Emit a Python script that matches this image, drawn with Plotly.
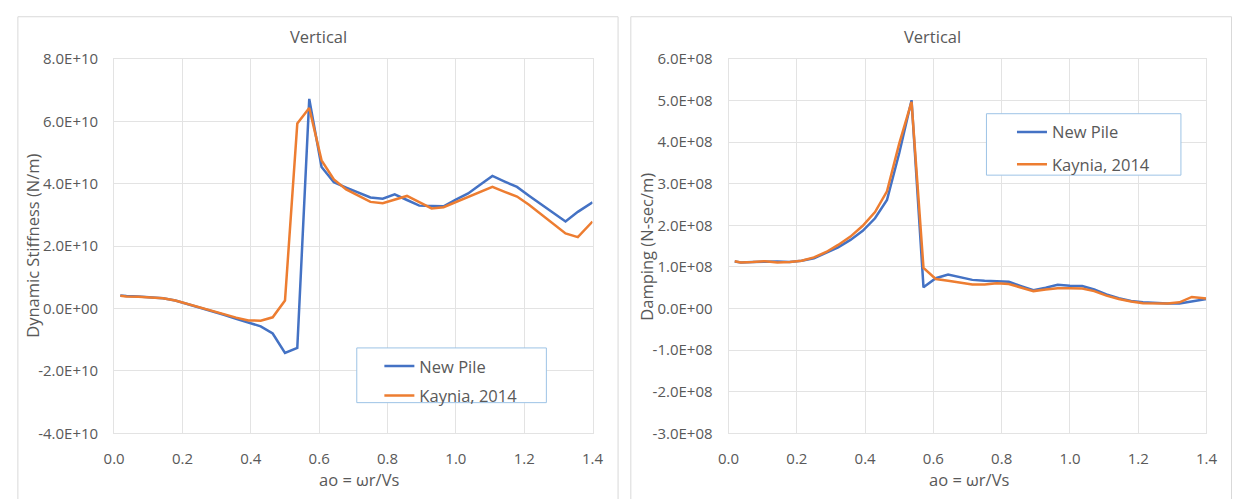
import plotly.graph_objects as go

# Dimensionless frequency ao = ωr/Vs
ao = [0.018, 0.036, 0.071, 0.107, 0.143, 0.179, 0.214, 0.250, 0.286, 0.321,
      0.357, 0.393, 0.429, 0.464, 0.500, 0.536, 0.571, 0.607, 0.643, 0.679,
      0.714, 0.750, 0.786, 0.821, 0.857, 0.893, 0.929, 0.964, 1.000, 1.036,
      1.071, 1.107, 1.143, 1.179, 1.214, 1.250, 1.286, 1.321, 1.357, 1.400]

# Vertical dynamic stiffness (N/m)
stiff_new_pile = [0.42e10, 0.40e10, 0.39e10, 0.37e10, 0.33e10, 0.26e10, 0.15e10, 0.03e10, -0.09e10, -0.20e10,
                  -0.33e10, -0.46e10, -0.57e10, -0.80e10, -1.42e10, -1.26e10, 6.72e10, 4.54e10, 4.05e10, 3.88e10,
                  3.71e10, 3.56e10, 3.52e10, 3.66e10, 3.48e10, 3.30e10, 3.29e10, 3.28e10, 3.49e10, 3.69e10,
                  3.97e10, 4.25e10, 4.07e10, 3.90e10, 3.62e10, 3.34e10, 3.07e10, 2.79e10, 3.10e10, 3.41e10]
stiff_kaynia = [0.41e10, 0.39e10, 0.38e10, 0.36e10, 0.33e10, 0.26e10, 0.15e10, 0.03e10, -0.08e10, -0.18e10,
                -0.29e10, -0.38e10, -0.39e10, -0.28e10, 0.26e10, 5.93e10, 6.43e10, 4.75e10, 4.14e10, 3.82e10,
                3.61e10, 3.42e10, 3.38e10, 3.50e10, 3.61e10, 3.41e10, 3.21e10, 3.25e10, 3.42e10, 3.59e10,
                3.74e10, 3.90e10, 3.74e10, 3.59e10, 3.33e10, 3.03e10, 2.72e10, 2.41e10, 2.29e10, 2.79e10]

# Vertical damping (N-sec/m)
damp_new_pile = [1.13e8, 1.11e8, 1.12e8, 1.13e8, 1.13e8, 1.12e8, 1.15e8, 1.21e8, 1.34e8, 1.47e8,
                 1.65e8, 1.87e8, 2.17e8, 2.61e8, 3.74e8, 5.01e8, 0.51e8, 0.73e8, 0.82e8, 0.75e8,
                 0.69e8, 0.67e8, 0.66e8, 0.645e8, 0.54e8, 0.44e8, 0.50e8, 0.57e8, 0.55e8, 0.54e8,
                 0.46e8, 0.34e8, 0.25e8, 0.18e8, 0.15e8, 0.13e8, 0.12e8, 0.12e8, 0.17e8, 0.23e8]
damp_kaynia = [1.14e8, 1.11e8, 1.12e8, 1.14e8, 1.11e8, 1.12e8, 1.15e8, 1.23e8, 1.36e8, 1.53e8,
               1.73e8, 1.99e8, 2.32e8, 2.82e8, 3.97e8, 4.97e8, 0.98e8, 0.71e8, 0.67e8, 0.63e8,
               0.58e8, 0.58e8, 0.61e8, 0.59e8, 0.51e8, 0.42e8, 0.46e8, 0.49e8, 0.49e8, 0.48e8,
               0.42e8, 0.31e8, 0.23e8, 0.17e8, 0.13e8, 0.12e8, 0.12e8, 0.15e8, 0.28e8, 0.24e8]

series_names = ["New Pile", "Kaynia, 2014"]

x_ticks = [0.0, 0.2, 0.4, 0.6, 0.8, 1.0, 1.2, 1.4]
stiff_ticks = [-4e10, -2e10, 0, 2e10, 4e10, 6e10, 8e10]
stiff_tick_text = ["-4.0E+10", "-2.0E+10", "0.0E+00", "2.0E+10", "4.0E+10", "6.0E+10", "8.0E+10"]
damp_ticks = [-3e8, -2e8, -1e8, 0, 1e8, 2e8, 3e8, 4e8, 5e8, 6e8]
damp_tick_text = ["-3.0E+08", "-2.0E+08", "-1.0E+08", "0.0E+00", "1.0E+08", "2.0E+08",
                  "3.0E+08", "4.0E+08", "5.0E+08", "6.0E+08"]

W, H = 1244, 499
FONT = "Open Sans"
TXT = "#595959"
GRID = "#e3e3e3"
BLUE = "#4472C4"
ORANGE = "#ED7D31"
LW = 2.5


def px_x(p):
    return p / W


def px_y(p):
    return 1 - p / H


fig = go.Figure()

fig.add_trace(go.Scatter(x=ao, y=stiff_new_pile, name=series_names[0], mode="lines",
                         line=dict(color=BLUE, width=LW), xaxis="x", yaxis="y",
                         legend="legend", legendgroup="a1"))
fig.add_trace(go.Scatter(x=ao, y=stiff_kaynia, name=series_names[1], mode="lines",
                         line=dict(color=ORANGE, width=LW), xaxis="x", yaxis="y",
                         legend="legend", legendgroup="b1"))
fig.add_trace(go.Scatter(x=ao, y=damp_new_pile, name=series_names[0], mode="lines",
                         line=dict(color=BLUE, width=LW), xaxis="x2", yaxis="y2",
                         legend="legend2", legendgroup="a2"))
fig.add_trace(go.Scatter(x=ao, y=damp_kaynia, name=series_names[1], mode="lines",
                         line=dict(color=ORANGE, width=LW), xaxis="x2", yaxis="y2",
                         legend="legend2", legendgroup="b2"))

y_dom = [px_y(440), px_y(50)]

xaxis_common = dict(range=[0, 1.4], tickvals=x_ticks, tickformat=".1f",
                    showgrid=True, gridcolor=GRID, gridwidth=1, zeroline=False,
                    showline=True, linecolor=GRID, linewidth=1, mirror=True,
                    ticks="", ticklabelstandoff=12,
                    tickfont=dict(family=FONT, size=15, color=TXT))
yaxis_common = dict(showgrid=True, gridcolor=GRID, gridwidth=1, zeroline=False,
                    showline=True, linecolor=GRID, linewidth=1, mirror=True,
                    ticks="", ticklabelstandoff=12,
                    tickfont=dict(family=FONT, size=15, color=TXT))

legend_common = dict(bgcolor="rgba(0,0,0,0)", borderwidth=0, xanchor="left", yanchor="top",
                     traceorder="grouped",
                     font=dict(family=FONT, size=16.5, color=TXT))

fig.update_layout(
    width=W, height=H,
    margin=dict(l=0, r=0, t=0, b=0),
    paper_bgcolor="white", plot_bgcolor="white",
    xaxis=dict(domain=[px_x(105), px_x(592)], anchor="y", **xaxis_common),
    yaxis=dict(domain=y_dom, anchor="x", range=[-4e10, 8e10],
               tickvals=stiff_ticks, ticktext=stiff_tick_text, **yaxis_common),
    xaxis2=dict(domain=[px_x(730.5), px_x(1217)], anchor="y2", **xaxis_common),
    yaxis2=dict(domain=y_dom, anchor="x2", range=[-3e8, 6e8],
                tickvals=damp_ticks, ticktext=damp_tick_text, **yaxis_common),
    legend=dict(x=px_x(375), y=px_y(352), tracegroupgap=5, **legend_common),
    legend2=dict(x=px_x(1019), y=px_y(108), tracegroupgap=8, **legend_common),
    showlegend=True,
)

# Chart frames and legend boxes
shapes = [
    dict(type="rect", xref="paper", yref="paper", x0=px_x(7), x1=px_x(618), y0=-0.05, y1=px_y(6),
         line=dict(color="#d9d9d9", width=1), fillcolor="rgba(0,0,0,0)", layer="below"),
    dict(type="rect", xref="paper", yref="paper", x0=px_x(631), x1=px_x(1242.5), y0=-0.05, y1=px_y(6),
         line=dict(color="#d9d9d9", width=1), fillcolor="rgba(0,0,0,0)", layer="below"),
    dict(type="rect", xref="paper", yref="paper", x0=px_x(352), x1=px_x(545), y0=px_y(408), y1=px_y(351),
         line=dict(color="#9dc3e6", width=1), fillcolor="white", layer="above"),
    dict(type="rect", xref="paper", yref="paper", x0=px_x(993), x1=px_x(1191), y0=px_y(171), y1=px_y(107),
         line=dict(color="#9dc3e6", width=1), fillcolor="white", layer="above"),
]
fig.update_layout(shapes=shapes)

title_font = dict(family=FONT, size=16.5, color=TXT)
annotations = [
    dict(text="Vertical", x=px_x(313), y=px_y(27)),
    dict(text="Vertical", x=px_x(938), y=px_y(27)),
    dict(text="ao = ωr/Vs", x=px_x(355), y=px_y(488)),
    dict(text="ao = ωr/Vs", x=px_x(976), y=px_y(488)),
    dict(text="Dynamic Stiffness (N/m)", x=px_x(22), y=px_y(245), textangle=-90),
    dict(text="Damping (N-sec/m)", x=px_x(647), y=px_y(246), textangle=-90),
]
for a in annotations:
    a.update(xref="paper", yref="paper", showarrow=False, font=title_font,
             xanchor="center", yanchor="middle")
fig.update_layout(annotations=annotations)

# The figure fills the page edge to edge
fig.write_html("out.html",
               post_script="document.body.style.margin='0';document.body.style.overflow='hidden';")
